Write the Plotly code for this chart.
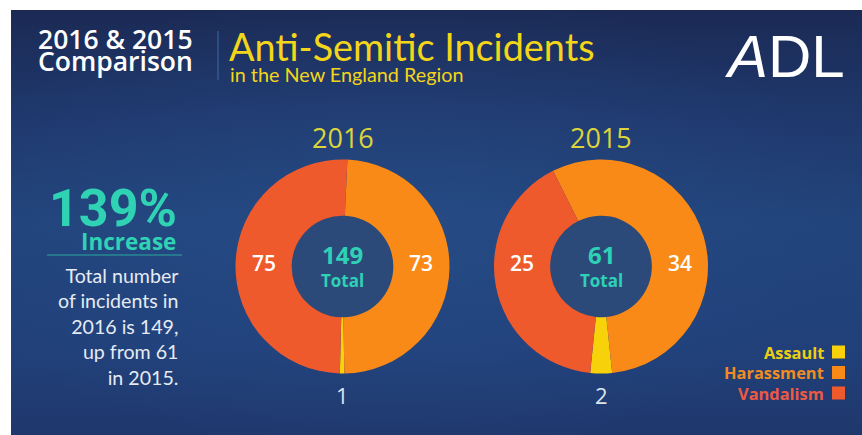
import base64
import plotly.graph_objects as go

W, H = 862, 435

# ---------------- data ----------------
categories = ["Assault", "Harassment", "Vandalism"]
values_2016 = [1, 73, 75]
values_2015 = [2, 34, 25]
years = ["2016", "2015"]
series = [values_2016, values_2015]
increase_label = "139%"
paragraph = ["Total number", "of incidents in", "2016 is 149,", "up from 61", "in 2015."]

slice_colors = ["#f7d10a", "#f98a17", "#ef5a2d"]
legend_text_colors = ["#eccf12", "#f08c22", "#ec5a44"]


def px(x):
    return x / W


def py(y):
    return 1 - y / H


# ---------------- background ----------------
bg_svg = """<svg xmlns='http://www.w3.org/2000/svg' width='851' height='425' viewBox='0 0 851 425'>
<defs>
<linearGradient id='g' x1='0' y1='0' x2='0' y2='1'>
<stop offset='0' stop-color='#1b2a55'/>
<stop offset='0.25' stop-color='#1f386c'/>
<stop offset='0.5' stop-color='#22447c'/>
<stop offset='0.8' stop-color='#21407a'/>
<stop offset='1' stop-color='#1f386c'/>
</linearGradient>
<radialGradient id='r' cx='0.45' cy='0.5' r='0.55'>
<stop offset='0' stop-color='#2a5592' stop-opacity='0.4'/>
<stop offset='1' stop-color='#2a5592' stop-opacity='0'/>
</radialGradient>
</defs>
<rect width='851' height='425' fill='url(#g)'/>
<rect width='851' height='425' fill='url(#r)'/>
</svg>"""
bg_uri = "data:image/svg+xml;base64," + base64.b64encode(bg_svg.encode()).decode()

fig = go.Figure()

# ---------------- donuts ----------------
centers = [(342.5, 266.5), (601.0, 266.5)]
R = 107
HOLE = 0.475
rotations = [179, 174]
hole_color = "#2c4a79"
shapes = []
annotations = []

# where each category's value label sits around its donut
label_side = {"Assault": "below", "Harassment": "right", "Vandalism": "left"}

for vals, yr, (cx, cy), rot in zip(series, years, centers, rotations):
    total = sum(vals)
    fig.add_trace(go.Pie(
        values=vals,
        labels=categories,
        sort=False,
        direction="counterclockwise",
        rotation=rot,
        hole=HOLE,
        marker=dict(colors=slice_colors, line=dict(width=0)),
        textinfo="none",
        domain=dict(x=[px(cx - R), px(cx + R)], y=[py(cy + R), py(cy - R)]),
        showlegend=False,
        hoverinfo="label+value",
    ))
    hr = R * HOLE
    shapes.append(dict(type="circle", xref="paper", yref="paper", layer="below",
                       x0=px(cx - hr), x1=px(cx + hr), y0=py(cy + hr), y1=py(cy - hr),
                       fillcolor=hole_color, line=dict(width=0)))
    # center totals
    annotations.append(dict(text=f"<b>{total}</b>", x=px(cx), y=py(cy - 12), xanchor="center",
                            yanchor="middle", font=dict(family="Open Sans", size=24, color="#2fd1b6")))
    annotations.append(dict(text="<b>Total</b>", x=px(cx), y=py(cy + 13.5), xanchor="center",
                            yanchor="middle", font=dict(family="Open Sans", size=17, color="#2fd1b6")))
    # value labels
    rmid = (R + hr) / 2
    for cat, v in zip(categories, vals):
        side = label_side[cat]
        if side == "below":
            annotations.append(dict(text=str(v), x=px(cx), y=py(cy + R + 21), xanchor="center",
                                    yanchor="middle",
                                    font=dict(family="Open Sans", size=22, color="#dce4ef")))
        else:
            sx = cx + rmid if side == "right" else cx - rmid
            annotations.append(dict(text=str(v), x=px(sx), y=py(cy - 4), xanchor="center",
                                    yanchor="middle",
                                    font=dict(family="Open Sans", size=21, color="#ffffff", weight=600)))

# year labels
for yr, (cx, cy) in zip(years, centers):
    annotations.append(dict(text=yr, x=px(cx), y=py(137.5), xanchor="center", yanchor="middle",
                            font=dict(family="Open Sans", size=27, color="#dcd43a")))

# ---------------- header ----------------
annotations += [
    dict(text="2016 & 2015", x=px(195), y=py(39), xanchor="right", yanchor="middle",
         font=dict(family="Open Sans", size=26.5, color="#ffffff", weight=600)),
    dict(text="Comparison", x=px(195), y=py(61), xanchor="right", yanchor="middle",
         font=dict(family="Open Sans", size=26.5, color="#ffffff", weight=600)),
    dict(text="Anti-Semitic Incidents", x=px(227), y=py(46), xanchor="left", yanchor="middle",
         font=dict(family="Lato", size=37.8, color="#f3d519")),
    dict(text="in the New England Region", x=px(228), y=py(74), xanchor="left", yanchor="middle",
         font=dict(family="Lato", size=19.8, color="#f3d519")),
    dict(text="<i>A</i>DL", x=px(847), y=py(56), xanchor="right", yanchor="middle",
         font=dict(family="Liberation Sans", size=60, color="#ffffff")),
]

# ---------------- left text ----------------
annotations += [
    dict(text=f"<b>{increase_label}</b>", x=px(179), y=py(208), xanchor="right", yanchor="middle",
         font=dict(family="Roboto", size=52, color="#2fd3b4")),
    dict(text="<b>Increase</b>", x=px(178), y=py(241), xanchor="right", yanchor="middle",
         font=dict(family="Open Sans", size=22.5, color="#2fd3b4")),
    dict(text="<br>".join(paragraph), x=px(180), y=py(326), xanchor="right", yanchor="middle",
         align="right", font=dict(family="Lato", size=19.6, color="#e6ebf3")),
]

# ---------------- legend ----------------
legend_rows_y = [352, 372.5, 393]
for name, tcol, scol, ly in zip(categories, legend_text_colors, slice_colors, legend_rows_y):
    annotations.append(dict(text=f"<b>{name}</b>", x=px(826), y=py(ly), xanchor="right",
                            yanchor="middle", font=dict(family="Open Sans", size=16.4, color=tcol)))
    shapes.append(dict(type="rect", xref="paper", yref="paper", x0=px(832), x1=px(845),
                       y0=py(ly + 6.5), y1=py(ly - 6.5), fillcolor=scol, line=dict(width=0)))

for a in annotations:
    a.setdefault("xref", "paper")
    a.setdefault("yref", "paper")
    a.setdefault("showarrow", False)

# separator lines
shapes += [
    dict(type="line", xref="paper", yref="paper", x0=px(218), x1=px(218), y0=py(31), y1=py(80),
         line=dict(color="#3a6aa5", width=1)),
    dict(type="line", xref="paper", yref="paper", x0=px(47), x1=px(182), y0=py(255), y1=py(255),
         line=dict(color="#2aa99c", width=1)),
]

fig.update_layout(
    width=W, height=H,
    margin=dict(l=0, r=0, t=0, b=0),
    paper_bgcolor="#ffffff",
    plot_bgcolor="#ffffff",
    images=[dict(source=bg_uri, xref="paper", yref="paper", x=px(11), y=py(10),
                 sizex=px(862) - px(11), sizey=py(10) - py(435), xanchor="left", yanchor="top",
                 sizing="stretch", layer="below")],
    shapes=shapes,
    annotations=annotations,
    showlegend=False,
)

fig.write_html("out.html")
